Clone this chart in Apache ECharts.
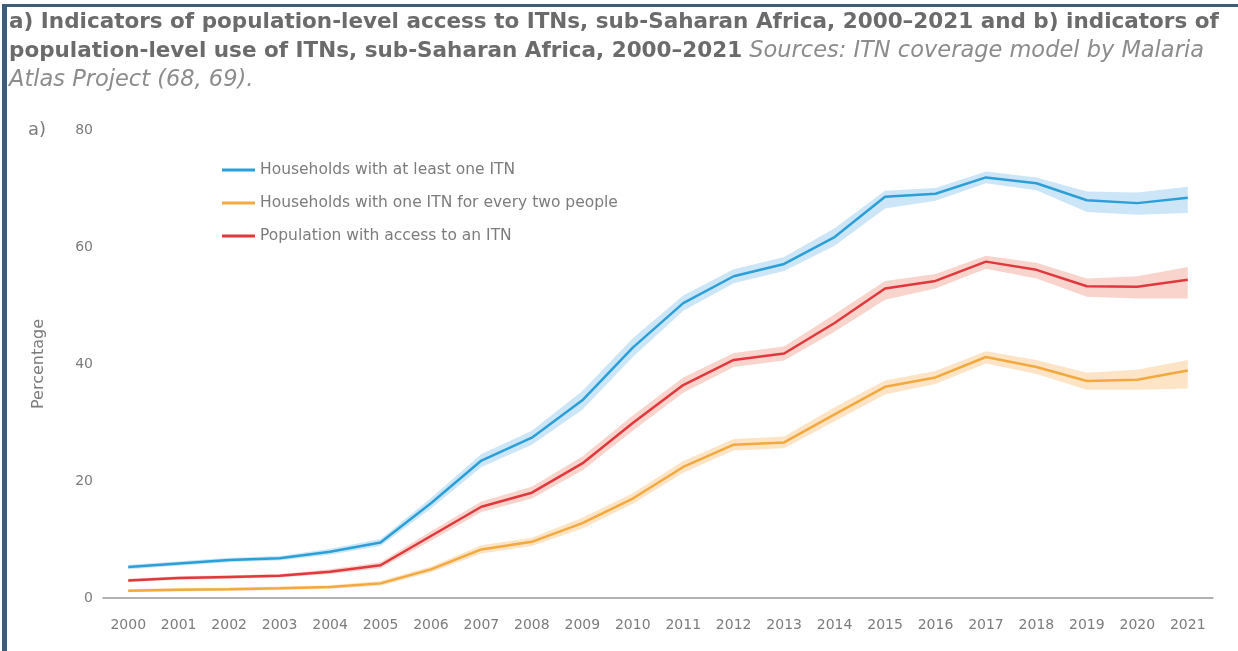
<!DOCTYPE html>
<html>
<head>
<meta charset="utf-8">
<script src="https://cdn.jsdelivr.net/npm/echarts@6/dist/echarts.min.js"></script>
<style>
  html, body { margin: 0; padding: 0; background: #fff; }
  #chart { width: 1238px; height: 651px; }
</style>
</head>
<body>
<div id="chart"></div>
<script>
// Years on the x axis
const years = ['2000','2001','2002','2003','2004','2005','2006','2007','2008','2009','2010',
               '2011','2012','2013','2014','2015','2016','2017','2018','2019','2020','2021'];

// Households with at least one ITN (%), with lower/upper uncertainty bounds
const hhAnyItn     = [5.3, 5.9, 6.5, 6.8, 7.9, 9.5, 16.2, 23.5, 27.4, 33.8, 42.8, 50.4, 55.0, 57.1, 61.7, 68.6, 69.1, 71.9, 70.9, 68.0, 67.5, 68.4];
const hhAnyItnLow  = [4.9, 5.5, 6.1, 6.4, 7.4, 8.9, 15.3, 22.4, 26.2, 32.2, 41.2, 49.1, 53.8, 55.9, 60.2, 66.6, 67.9, 70.9, 69.7, 66.0, 65.5, 65.8];
const hhAnyItnHigh = [5.7, 6.3, 6.9, 7.2, 8.4, 10.1, 17.1, 24.6, 28.6, 35.4, 44.4, 51.7, 56.2, 58.3, 63.2, 69.6, 70.1, 72.9, 71.9, 69.5, 69.3, 70.3];

// Households with one ITN for every two people (%)
const hhOnePerTwo     = [1.25, 1.4, 1.5, 1.65, 1.9, 2.5, 4.9, 8.3, 9.6, 12.8, 17.0, 22.4, 26.2, 26.6, 31.4, 36.1, 37.7, 41.2, 39.5, 37.1, 37.3, 38.9];
const hhOnePerTwoLow  = [1.0, 1.1, 1.2, 1.35, 1.6, 2.1, 4.4, 7.6, 8.9, 11.9, 16.1, 21.4, 25.2, 25.6, 30.2, 34.8, 36.6, 40.1, 38.3, 35.6, 35.6, 35.8];
const hhOnePerTwoHigh = [1.5, 1.7, 1.8, 1.95, 2.2, 2.9, 5.4, 9.0, 10.3, 13.7, 17.9, 23.4, 27.2, 27.6, 32.6, 37.2, 38.8, 42.2, 40.7, 38.5, 39.0, 40.7];

// Population with access to an ITN (%)
const popAccess     = [3.0, 3.4, 3.6, 3.8, 4.5, 5.6, 10.6, 15.6, 18.0, 23.0, 29.9, 36.4, 40.7, 41.8, 47.0, 52.9, 54.2, 57.5, 56.1, 53.3, 53.2, 54.4];
const popAccessLow  = [2.7, 3.1, 3.3, 3.5, 4.1, 5.1, 9.8, 14.7, 17.0, 21.8, 28.6, 35.1, 39.5, 40.6, 45.5, 51.0, 52.9, 56.3, 54.6, 51.5, 51.2, 51.2];
const popAccessHigh = [3.3, 3.7, 3.9, 4.1, 4.9, 6.1, 11.4, 16.5, 19.0, 24.2, 31.2, 37.7, 41.9, 43.0, 48.5, 54.2, 55.4, 58.5, 57.3, 54.6, 55.0, 56.6];

// Y axis ticks
const yMin = 0, yMax = 80, yStep = 20;

const seriesNames = [
  'Households with at least one ITN',
  'Households with one ITN for every two people',
  'Population with access to an ITN'
];

const FONT = '"DejaVu Sans", "Open Sans", sans-serif';
const TEXT_GREY = '#7c7c7c';

// Uncertainty band: invisible lower series + stacked width series filled with colour
function band(key, low, high, fill) {
  const width = high.map((h, i) => +(h - low[i]).toFixed(2));
  return [
    {
      type: 'line', stack: key, data: low, symbol: 'none', silent: true,
      lineStyle: { opacity: 0 }, z: 1
    },
    {
      type: 'line', stack: key, data: width, symbol: 'none', silent: true,
      lineStyle: { opacity: 0 }, areaStyle: { color: fill, opacity: 1 }, z: 1
    }
  ];
}

function line(name, data, color) {
  return {
    name, type: 'line', data, symbol: 'none', z: 3,
    lineStyle: { color, width: 2.5 }, itemStyle: { color }
  };
}

const chart = echarts.init(document.getElementById('chart'));
chart.setOption({
  backgroundColor: '#fff',
  animation: false,
  title: {
    left: 9, top: 8, padding: 0,
    text: '{b|a) Indicators of population-level access to ITNs, sub-Saharan Africa, 2000–2021 and b) indicators of}\n' +
          '{b|population-level use of ITNs, sub-Saharan Africa, 2000–2021}{i| Sources: ITN coverage model by Malaria}\n' +
          '{i|Atlas Project (68, 69).}',
    textStyle: {
      rich: {
        b: { fontFamily: FONT, fontWeight: 'bold', fontSize: 21.5, color: '#6b6b6b', lineHeight: 29 },
        i: { fontFamily: FONT, fontStyle: 'italic', fontWeight: 'normal', fontSize: 22.5, color: '#8c8c8c', lineHeight: 29 }
      }
    }
  },
  graphic: [
    // frame accents
    { type: 'rect', shape: { x: 2, y: 4, width: 1236, height: 3 }, style: { fill: '#3d5d7a' } },
    { type: 'rect', shape: { x: 2, y: 4, width: 5, height: 647 }, style: { fill: '#3d5d7a' } },
    { type: 'text', left: 28, top: 121, style: { text: 'a)', fontFamily: FONT, fontSize: 18, fill: TEXT_GREY } }
  ],
  legend: {
    data: seriesNames,
    orient: 'vertical',
    left: 222, top: 162, padding: 0,
    icon: 'rect',
    itemWidth: 33, itemHeight: 3,
    itemGap: 17,
    textStyle: { fontFamily: FONT, fontSize: 15.5, color: TEXT_GREY, lineHeight: 16 }
  },
  grid: { left: 103, right: 25, top: 130, bottom: 53 },
  xAxis: {
    type: 'category',
    data: years,
    boundaryGap: true,
    axisLine: { lineStyle: { color: '#9a9a9a', width: 1.5 } },
    axisTick: { show: false },
    axisLabel: { fontFamily: FONT, fontSize: 14, color: TEXT_GREY, margin: 20 }
  },
  yAxis: {
    type: 'value',
    min: yMin, max: yMax, interval: yStep,
    name: 'Percentage',
    nameLocation: 'middle',
    nameRotate: 90,
    nameGap: 56,
    nameTextStyle: { fontFamily: FONT, fontSize: 16, color: TEXT_GREY },
    axisLine: { show: false },
    axisTick: { show: false },
    splitLine: { show: false },
    axisLabel: { fontFamily: FONT, fontSize: 14, color: TEXT_GREY, margin: 10 }
  },
  series: [
    ...band('bAny', hhAnyItnLow, hhAnyItnHigh, '#cde6f7'),
    ...band('bTwo', hhOnePerTwoLow, hhOnePerTwoHigh, '#fde4c6'),
    ...band('bPop', popAccessLow, popAccessHigh, '#f9d4cd'),
    line(seriesNames[0], hhAnyItn, '#2a9fd8'),
    line(seriesNames[1], hhOnePerTwo, '#f3a93e'),
    line(seriesNames[2], popAccess, '#e0383c')
  ]
});
</script>
</body>
</html>
